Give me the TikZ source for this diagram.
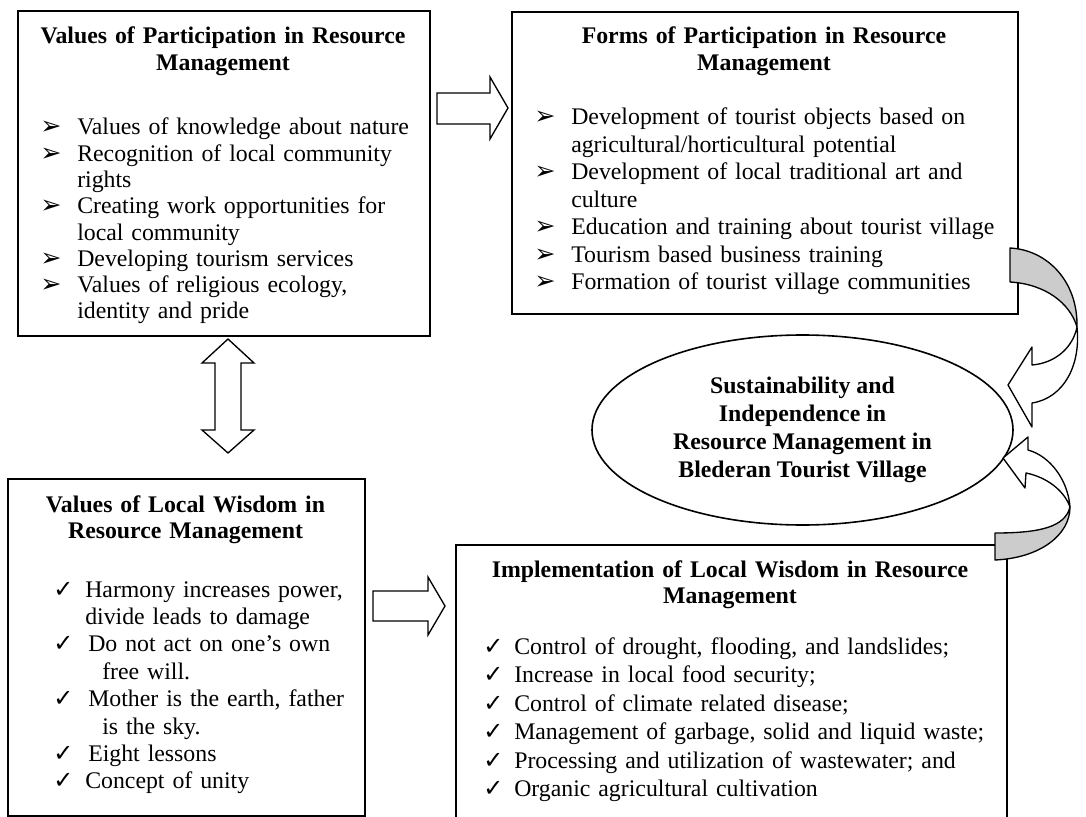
\documentclass[tikz,border=0pt]{standalone}
\usepackage{fontspec}
\setmainfont{Liberation Serif}
\newfontfamily\symf{DejaVu Sans}
\usetikzlibrary{shapes.geometric}
\tikzset{
  box/.style={draw, line width=1.2pt, fill=white, anchor=north west, inner sep=0pt},
  txt/.style={inner sep=0pt, align=left, anchor=base west, text width=600pt},
  ttl/.style={inner sep=0pt, font=\fontsize{17.85pt}{19.6pt}\selectfont\bfseries, align=center, anchor=base, text width=400pt},
  blk/.style={draw, line width=1pt, fill=white, line join=miter},
  rib/.style={draw, line width=1pt, line join=round},
  ribgrey/.style={rib, fill=black!20},
  ribwhite/.style={rib, fill=white},
}
\newcommand\ab{\makebox[27.75pt][l]{\raisebox{0pt}{\symf\fontsize{19pt}{19pt}\selectfont ➢}}}
\newcommand\ck[1]{\makebox[#1][l]{\symf\fontsize{18pt}{18pt}\selectfont ✓}}
\begin{document}
\begin{tikzpicture}[x=0.75pt,y=-0.75pt]
\useasboundingbox (0,0) rectangle (1086,817);
\clip (0,0) rectangle (1086,817);
\fill[white] (0,0) rectangle (1086,817);

% boxes
\node[box, minimum width=309pt, minimum height=243.75pt] (b1) at (17,10) {};
\node[box, minimum width=379.5pt, minimum height=226.5pt] (b2) at (511,11) {};
\node[box, minimum width=267.75pt, minimum height=252.75pt] (b3) at (7,478) {};
\node[box, minimum width=413.25pt, minimum height=240pt] (b4) at (455,544) {};

% ellipse
\node[ellipse, draw, line width=1.2pt, minimum width=315.75pt, minimum height=142.5pt,
      inner sep=0pt, align=center, font=\fontsize{17.85pt}{21pt}\selectfont\bfseries] (ell) at (802.5,430)
  {Sustainability and\\Independence in\\Resource Management in\\Blederan Tourist Village};

% block arrows
\draw[blk] (437,93) -- (490,93) -- (490,77) -- (508,108) -- (490,139) -- (490,124) -- (437,124) -- cycle;
\draw[blk] (228,339) -- (254,363) -- (241,363) -- (241,430) -- (254,430) -- (228,453)
  -- (202,430) -- (215,430) -- (215,363) -- (202,363) -- cycle;
\draw[blk] (373,591) -- (428,591) -- (428,577) -- (445,606) -- (428,635) -- (428,621) -- (373,621) -- cycle;

% upper curved ribbon arrow (b2 -> ell)
\draw[ribgrey] (1010,248) .. controls (1048,250) and (1078,282) .. (1077,327)
  .. controls (1070,303) and (1045,284) .. (1010,282) -- cycle;
\draw[ribwhite] (1077,327) .. controls (1073,347) and (1056,363) .. (1032,365)
  -- (1032,347) -- (1008,385) -- (1032,427) -- (1032,403)
  .. controls (1064,398) and (1081,365) .. (1077,327) -- cycle;

% lower curved ribbon arrow (b4 -> ell)
\draw[ribwhite] (1070,507) .. controls (1068,480) and (1050,456) .. (1028,450)
  -- (1028,437) -- (1003,458) -- (1025,488) -- (1026,473)
  .. controls (1046,477) and (1064,490) .. (1070,507) -- cycle;
\draw[ribgrey] (1070,507) .. controls (1065,527) and (1040,533) .. (995,533)
  -- (995,560) .. controls (1040,558) and (1070,535) .. (1070,507) -- cycle;

% titles
\node[ttl] (t1) at (223,44) {Values of Participation in Resource\\Management};
\node[ttl] (t2) at (764,44) {Forms of Participation in Resource\\Management};
\node[ttl] (t3) at (185.5,512) {Values of Local Wisdom in\\Resource Management};
\node[ttl] (t4) at (730,577) {Implementation of Local Wisdom in Resource\\Management};

% lists
\node[txt, font=\fontsize{17.85pt}{19.7pt}\selectfont] (l1) at (40,135) {%
\ab Values of knowledge about nature\\
\ab Recognition of local community\\
\hspace*{27.75pt}rights\\
\ab Creating work opportunities for\\
\hspace*{27.75pt}local community\\
\ab Developing tourism services\\
\ab Values of religious ecology,\\
\hspace*{27.75pt}identity and pride};

\node[txt, font=\fontsize{17.85pt}{20.6pt}\selectfont] (l2) at (534,125) {%
\ab Development of tourist objects based on\\
\hspace*{27.75pt}agricultural/horticultural potential\\
\ab Development of local traditional art and\\
\hspace*{27.75pt}culture\\
\ab Education and training about tourist village\\
\ab Tourism based business training\\
\ab Formation of tourist village communities};

\node[txt, font=\fontsize{17.85pt}{20.55pt}\selectfont] (l3) at (53,597) {%
\ck{24pt}Harmony increases power,\\
\hspace*{24pt}divide leads to damage\\
\ck{26.25pt}Do not act on one’s own\\
\hspace*{36.75pt}free will.\\
\ck{26.25pt}Mother is the earth, father\\
\hspace*{36.75pt}is the sky.\\
\ck{26.25pt}Eight lessons\\
\ck{24pt}Concept of unity};

\node[txt, font=\fontsize{17.85pt}{21.4pt}\selectfont] (l4) at (483,654) {%
\ck{23.25pt}Control of drought, flooding, and landslides;\\
\ck{23.25pt}Increase in local food security;\\
\ck{23.25pt}Control of climate related disease;\\
\ck{23.25pt}Management of garbage, solid and liquid waste;\\
\ck{23.25pt}Processing and utilization of wastewater; and\\
\ck{23.25pt}Organic agricultural cultivation};
\end{tikzpicture}
\end{document}
